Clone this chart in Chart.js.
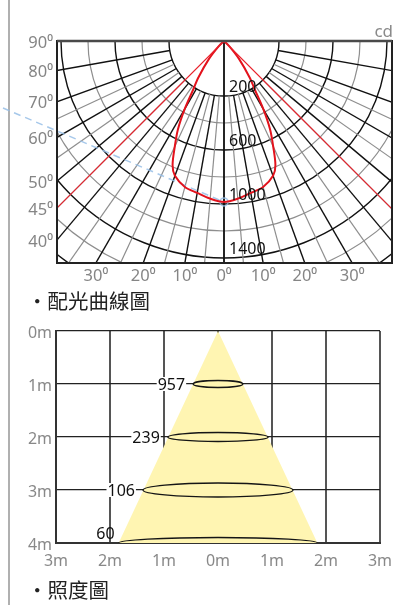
<!DOCTYPE html>
<html>
<head>
<meta charset="utf-8">
<script src="https://cdn.jsdelivr.net/npm/chart.js@4.4.0/dist/chart.umd.min.js"></script>
<style>
    body {
        margin: 0;
        background: #fff;
        width: 414px;
        height: 605px;
        position: relative;
        overflow: hidden;
        font-family: "Noto Sans CJK TC", "Noto Sans", sans-serif;
    }
    .rule {
        position: absolute;
        left: 8px;
        top: 0;
        width: 2px;
        height: 605px;
        background: #b0b0b0;
    }
    #polarBox { position: absolute; left: 0; top: 0; }
    #luxBox { position: absolute; left: 0; top: 310px; }
    .caption {
        position: absolute;
        left: 27px;
        font-size: 20.5px;
        line-height: 24px;
        color: #222;
    }
    .unit {
        position: absolute;
        right: 21px;
        top: 19px;
        font-size: 17px;
        color: #8a8a8a;
        font-family: "Noto Sans", sans-serif;
    }
</style>
</head>
<body>

<div class="rule"></div>
<canvas id="polarBox" width="414" height="310"></canvas>
<canvas id="luxBox" width="414" height="295"></canvas>
<div class="unit">cd</div>
<div class="caption" style="top:288px">・配光曲線圖</div>
<div class="caption" style="top:577px">・照度圖</div>

<script>
// ---- 配光曲線 data ----
const curveAngles = [0, 5, 10, 15, 20, 22.5, 25, 27.5, 30, 32.5, 35, 40, 45, 50];
const curveCandela = [985, 965, 935, 912, 855, 788, 655, 533, 374, 212, 165, 85, 30, 0];

const ringCandela = [200, 400, 600, 800, 1000, 1200, 1400, 1600, 1800, 2000];
const ringMajor = [200, 600, 1000, 1400, 1800];
const ringLabels = [200, 600, 1000, 1400];

// 5 degree spokes up to 65, then every 10
const spokeAngles = [0, 5, 10, 15, 20, 25, 30, 35, 40, 45, 50, 55, 60, 65, 70, 80];
const sideAngleTicks = [90, 80, 70, 60, 50, 45, 40];
const bottomAngleTicks = [-30, -20, -10, 0, 10, 20, 30];
const beamEdgeAngle = 45;

// ---- 照度圖 data ----
const mountDistance = [1, 2, 3, 4];
const luxValues = [957, 239, 106, 60];
const spotRadius = [0.46, 0.93, 1.39, 1.84];
const distanceTicks = [0, 1, 2, 3, 4];
const widthTicks = [-3, -2, -1, 0, 1, 2, 3];

// polar box extents (radius units)
const polarLeft = -167;
const polarRight = 168;
const polarDepth = 222;

// radial scale: inner 200 cd ring is stretched, rings after that are even
function cdToR(cd) {
    if (cd < 200) return cd * 0.275;
    return 55 + (cd - 200) * 0.135;
}

function polarPoint(deg, cd) {
    const t = deg * Math.PI / 180;
    const r = cdToR(cd);
    return { x: r * Math.sin(t), y: r * Math.cos(t) };
}

const curvePoints = [];
for (let i = curveAngles.length - 1; i > 0; i--) {
    curvePoints.push(polarPoint(-curveAngles[i], curveCandela[i]));
}
for (let i = 0; i < curveAngles.length; i++) {
    curvePoints.push(polarPoint(curveAngles[i], curveCandela[i]));
}

const degFont = { family: 'Noto Sans', size: 16.5 };

const polarGrid = {
    id: 'polarGrid',

    beforeDatasetsDraw(chart) {
        const { ctx, chartArea: a, scales: { x, y } } = chart;
        const cx = x.getPixelForValue(0);
        const cy = y.getPixelForValue(0);
        const unit = x.getPixelForValue(1) - cx;

        ctx.save();
        ctx.beginPath();
        ctx.rect(a.left, a.top, a.width, a.height);
        ctx.clip();

        ringCandela.forEach(cd => {
            const major = ringMajor.includes(cd);
            ctx.beginPath();
            ctx.arc(cx, cy, cdToR(cd) * unit, 0, Math.PI);
            ctx.strokeStyle = major ? '#111' : '#8e8e8e';
            ctx.lineWidth = major ? 1.4 : 1.2;
            ctx.stroke();
        });

        spokeAngles.forEach(deg => {
            const t = deg * Math.PI / 180;
            const r0 = deg === 0 ? 0 : cdToR(ringCandela[0]) * unit;
            const r1 = 600;
            const major = deg % 10 === 0;
            [-1, 1].forEach(s => {
                ctx.beginPath();
                ctx.moveTo(cx + s * Math.sin(t) * r0, cy + Math.cos(t) * r0);
                ctx.lineTo(cx + s * Math.sin(t) * r1, cy + Math.cos(t) * r1);
                ctx.strokeStyle = major ? '#111' : '#8e8e8e';
                ctx.lineWidth = major ? 1.4 : 1.2;
                ctx.stroke();
            });
        });
        ctx.restore();
    },

    afterDatasetsDraw(chart) {
        const { ctx, scales: { x, y } } = chart;
        const cx = x.getPixelForValue(0);
        ctx.save();
        ctx.font = '16px "Noto Sans"';
        ctx.fillStyle = '#111';
        ctx.textAlign = 'left';
        ctx.textBaseline = 'alphabetic';
        ringLabels.forEach(cd => {
            const py = y.getPixelForValue(cdToR(cd));
            ctx.fillText(String(cd), cx + 5, py - 4);
        });
        ctx.restore();
    },

    afterDraw(chart) {
        const { ctx, chartArea: a } = chart;
        ctx.save();
        ctx.strokeStyle = '#222';
        ctx.lineWidth = 2;
        ctx.strokeRect(a.left, a.top, a.width, a.height);
        ctx.strokeStyle = '#4a4a4a';
        ctx.lineWidth = 2.5;
        ctx.beginPath();
        ctx.moveTo(a.left, a.top);
        ctx.lineTo(a.right, a.top);
        ctx.stroke();
        ctx.restore();
    }
};

const polarChart = new Chart(document.getElementById('polarBox'), {
    type: 'scatter',
    data: {
        datasets: [
            {
                data: [{ x: 0, y: 0 }, polarPoint(-beamEdgeAngle, 3000)],
                showLine: true,
                borderColor: '#e8202a',
                borderWidth: 1.2,
                pointRadius: 0
            },
            {
                data: [{ x: 0, y: 0 }, polarPoint(beamEdgeAngle, 3000)],
                showLine: true,
                borderColor: '#e8202a',
                borderWidth: 1.2,
                pointRadius: 0
            },
            {
                data: curvePoints,
                showLine: true,
                tension: 0.3,
                borderColor: '#e3121c',
                borderWidth: 2,
                pointRadius: 0
            },
            {
                // hover guide
                data: [{ x: -221, y: 67 }, polarPoint(0, curveCandela[0])],
                showLine: true,
                borderColor: 'rgba(150,190,230,0.85)',
                borderDash: [7, 5],
                borderWidth: 1.5,
                pointRadius: [0, 4],
                pointBorderColor: 'rgba(150,190,230,0.85)',
                pointBackgroundColor: 'rgba(0,0,0,0)',
                pointBorderWidth: 1.5,
                clip: false
            }
        ]
    },
    options: {
        responsive: false,
        animation: false,
        events: [],
        layout: {
            padding: { left: 0, right: 22, top: 41, bottom: 22 }
        },
        plugins: {
            legend: { display: false },
            tooltip: { enabled: false }
        },
        scales: {
            x: {
                type: 'linear',
                min: polarLeft,
                max: polarRight,
                grid: { display: false, drawTicks: false },
                border: { display: false },
                afterBuildTicks: scale => {
                    scale.ticks = bottomAngleTicks.map(a => ({
                        value: Math.tan(Math.abs(a) * Math.PI / 180) * polarDepth * Math.sign(a)
                    }));
                },
                afterFit: scale => { scale.height = 25; },
                ticks: {
                    autoSkip: false,
                    maxRotation: 0,
                    padding: 3,
                    color: '#858585',
                    font: degFont,
                    callback: (v, i) => Math.abs(bottomAngleTicks[i]) + '⁰'
                }
            },
            y: {
                type: 'linear',
                min: 0,
                max: polarDepth,
                reverse: true,
                grid: { display: false, drawTicks: false },
                border: { display: false },
                afterBuildTicks: scale => {
                    scale.ticks = sideAngleTicks.map(a => ({
                        value: -polarLeft / Math.tan(a * Math.PI / 180)
                    }));
                },
                afterFit: scale => { scale.width = 57; },
                ticks: {
                    autoSkip: false,
                    padding: 4,
                    labelOffset: 2,
                    color: '#858585',
                    font: degFont,
                    callback: (v, i) => sideAngleTicks[i] + '⁰'
                }
            }
        }
    },
    plugins: [polarGrid]
});

// ---- 照度圖 ----
const ringDepth = [3.5, 4.5, 7, 5.5];

const spotRings = {
    id: 'spotRings',

    afterDatasetsDraw(chart) {
        const { ctx, chartArea: a, scales: { x, y } } = chart;
        ctx.save();
        ctx.beginPath();
        ctx.rect(a.left, a.top, a.width, a.height);
        ctx.clip();
        ctx.strokeStyle = '#151515';
        ctx.lineWidth = 1.3;
        mountDistance.forEach((d, i) => {
            const cx = x.getPixelForValue(0);
            const cy = y.getPixelForValue(d);
            const rx = x.getPixelForValue(spotRadius[i]) - cx;
            ctx.beginPath();
            ctx.ellipse(cx, cy, rx, ringDepth[i], 0, 0, Math.PI * 2);
            ctx.stroke();
        });
        ctx.restore();
    },

    afterDraw(chart) {
        const { ctx, scales: { x, y } } = chart;
        ctx.save();
        ctx.font = '16px "Noto Sans"';
        ctx.textAlign = 'right';
        const last = mountDistance.length - 1;
        mountDistance.forEach((d, i) => {
            const left = x.getPixelForValue(-spotRadius[i]);
            const cy = y.getPixelForValue(d);
            const label = String(luxValues[i]);
            const w = ctx.measureText(label).width;
            if (i === last) {
                ctx.textBaseline = 'alphabetic';
                ctx.fillStyle = '#111';
                ctx.fillText(label, left - 4, cy - 4);
                return;
            }
            const right = left - 8;
            ctx.fillStyle = '#fff';
            ctx.fillRect(right - w - 1, cy - 7, w + 2, 14);
            ctx.textBaseline = 'middle';
            ctx.fillStyle = '#111';
            ctx.fillText(label, right, cy + 1);
        });
        ctx.restore();
    }
};

const last = mountDistance.length - 1;

const luxChart = new Chart(document.getElementById('luxBox'), {
    type: 'scatter',
    data: {
        datasets: [{
            data: [
                { x: 0, y: 0 },
                { x: -spotRadius[last], y: mountDistance[last] },
                { x: spotRadius[last], y: mountDistance[last] },
                { x: 0, y: 0 }
            ],
            showLine: true,
            fill: 'shape',
            backgroundColor: '#fff5b2',
            borderWidth: 0,
            pointRadius: 0,
            tension: 0
        }]
    },
    options: {
        responsive: false,
        animation: false,
        events: [],
        layout: {
            padding: { left: 0, right: 34, top: 21, bottom: 32 }
        },
        plugins: {
            legend: { display: false },
            tooltip: { enabled: false }
        },
        scales: {
            x: {
                type: 'linear',
                min: -3,
                max: 3,
                z: 1,
                grid: { color: '#555', lineWidth: 2, drawTicks: false },
                border: { color: '#333', width: 2 },
                afterBuildTicks: scale => {
                    scale.ticks = widthTicks.map(v => ({ value: v }));
                },
                afterFit: scale => { scale.height = 30; },
                ticks: {
                    autoSkip: false,
                    maxRotation: 0,
                    padding: 9,
                    color: '#888',
                    font: { family: 'Noto Sans', size: 16 },
                    callback: v => Math.abs(v) + 'm'
                }
            },
            y: {
                type: 'linear',
                min: 0,
                max: 4,
                reverse: true,
                z: 1,
                grid: { color: '#222', lineWidth: 1.3, drawTicks: false },
                border: { color: '#333', width: 2 },
                afterBuildTicks: scale => {
                    scale.ticks = distanceTicks.map(v => ({ value: v }));
                },
                afterFit: scale => { scale.width = 56; },
                ticks: {
                    autoSkip: false,
                    padding: 4,
                    labelOffset: 2,
                    color: '#888',
                    font: { family: 'Noto Sans', size: 16 },
                    callback: v => v + 'm'
                }
            }
        }
    },
    plugins: [spotRings]
});
</script>
</body>
</html>
